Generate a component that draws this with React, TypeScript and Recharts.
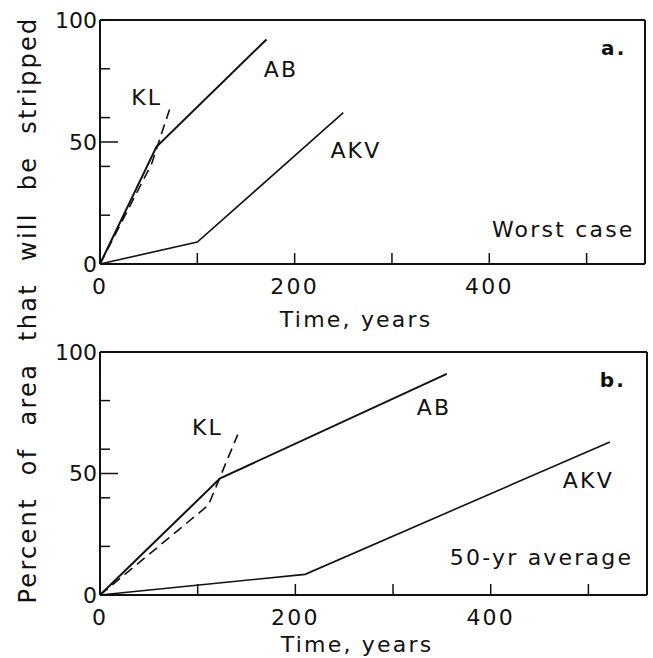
import { LineChart, Line, XAxis, YAxis, ReferenceDot, Label } from "recharts";

const FONT = "'DejaVu Sans', sans-serif";
const INK = "#111";

// x axis: time, years
const X_DOMAIN = [0, 560];
const X_TICKS = [0, 100, 200, 300, 400, 500];
const X_TOP_TICKS = [100, 200, 300, 400, 500];
const X_LABELS = [0, 200, 400];

// y axis: percent stripped
const Y_TICKS = [0, 20, 40, 50, 60, 80, 100];
const Y_MAJOR = [0, 50, 100];

// panel a (worst case)
const A_AB_T = [0, 58, 171];
const A_AB_V = [0, 48, 92];
const A_KL_T = [0, 53, 72];
const A_KL_V = [0, 41, 64];
const A_AKV_T = [0, 100, 250];
const A_AKV_V = [0, 9, 62];

// panel b (50-yr average)
const B_AB_T = [0, 123, 355];
const B_AB_V = [0, 48, 91];
const B_KL_T = [0, 111, 141];
const B_KL_V = [0, 37, 66];
const B_AKV_T = [0, 210, 522];
const B_AKV_V = [0, 8.5, 63];

const toPts = (t: number[], v: number[]) => t.map((x, i) => ({ t: x, v: v[i] }));

const textStyle = { fontFamily: FONT, fontSize: 22, fill: INK, letterSpacing: 2.2 };

function XTickBottom(props: any) {
  const { x, y, payload } = props;
  const v = payload?.value;
  return (
    <g>
      {v !== 0 && <line x1={x} x2={x} y1={y} y2={y - 11} stroke={INK} strokeWidth={1.5} />}
      {X_LABELS.includes(v) && (
        <text x={x} y={y + 30} textAnchor="middle" style={textStyle}>
          {v}
        </text>
      )}
    </g>
  );
}

function XTickTop(props: any) {
  const { x, y } = props;
  return <line x1={x} x2={x} y1={y} y2={y + 12} stroke={INK} strokeWidth={1.5} />;
}

function YTick(props: any) {
  const { x, y, payload } = props;
  const v = payload?.value;
  const major = Y_MAJOR.includes(v);
  return (
    <g>
      <line x1={x} x2={x + (major ? 18 : 10)} y1={y} y2={y} stroke={INK} strokeWidth={1.5} />
      {major && (
        <text x={x - 3} y={y} dy="0.36em" textAnchor="end" style={{ ...textStyle, letterSpacing: 0 }}>
          {v}
        </text>
      )}
    </g>
  );
}

interface Note { t: number; v: number; text: string; bold?: boolean }

const A_NOTES: Note[] = [
  { t: 48, v: 65, text: "KL" },
  { t: 186, v: 76.5, text: "AB" },
  { t: 263, v: 43.5, text: "AKV" },
  { t: 528, v: 85.7, text: "a.", bold: true },
  { t: 476, v: 11.1, text: "Worst case" },
];

const B_NOTES: Note[] = [
  { t: 110, v: 65.8, text: "KL" },
  { t: 342, v: 74.1, text: "AB" },
  { t: 500, v: 44, text: "AKV" },
  { t: 525, v: 85.6, text: "b.", bold: true },
  { t: 452, v: 12.3, text: "50-yr average" },
];

interface PanelProps {
  ab: { t: number; v: number }[];
  kl: { t: number; v: number }[];
  akv: { t: number; v: number }[];
  notes: Note[];
  height: number;
  top: number;
  bottomH: number;
  rightW: number;
  titleDy: number;
}

function Panel({ ab, kl, akv, notes, height, top, bottomH, rightW, titleDy }: PanelProps) {
  return (
    <LineChart width={653} height={height} margin={{ top, right: 0, bottom: 0, left: 0 }}>
      <XAxis
        dataKey="t"
        type="number"
        domain={X_DOMAIN}
        ticks={X_TICKS}
        interval={0}
        height={bottomH}
        tickSize={0}
        tickMargin={0}
        tickLine={false}
        axisLine={{ stroke: INK, strokeWidth: 2 }}
        tick={<XTickBottom />}
      >
        <Label
          content={(p: any) => {
            const vb = p.viewBox;
            return (
              <text x={vb.x + vb.width * 0.47} y={vb.y + titleDy} textAnchor="middle" style={textStyle}>
                Time, years
              </text>
            );
          }}
        />
      </XAxis>
      <XAxis
        xAxisId="top"
        orientation="top"
        type="number"
        domain={X_DOMAIN}
        ticks={X_TOP_TICKS}
        interval={0}
        height={1}
        tickSize={0}
        tickMargin={0}
        tickLine={false}
        axisLine={{ stroke: INK, strokeWidth: 2 }}
        tick={<XTickTop />}
      />
      <YAxis
        type="number"
        domain={[0, 100]}
        ticks={Y_TICKS}
        interval={0}
        width={100}
        tickSize={0}
        tickMargin={0}
        tickLine={false}
        axisLine={{ stroke: INK, strokeWidth: 2 }}
        tick={<YTick />}
      />
      <YAxis
        yAxisId="r"
        orientation="right"
        type="number"
        domain={[0, 100]}
        width={rightW}
        tick={false}
        tickLine={false}
        axisLine={{ stroke: INK, strokeWidth: 2 }}
      />
      <Line data={ab} dataKey="v" name="AB" stroke={INK} strokeWidth={2} dot={false} isAnimationActive={false} />
      <Line
        data={kl}
        dataKey="v"
        name="KL"
        stroke={INK}
        strokeWidth={1.6}
        strokeDasharray="10 6"
        dot={false}
        isAnimationActive={false}
      />
      <Line data={akv} dataKey="v" name="AKV" stroke={INK} strokeWidth={1.6} dot={false} isAnimationActive={false} />
      {notes.map((n) => (
        <ReferenceDot
          key={n.text}
          x={n.t}
          y={n.v}
          r={0}
          ifOverflow="visible"
          shape={(p: any) => (
            <text
              x={p.cx}
              y={p.cy}
              textAnchor="middle"
              style={{ ...textStyle, fontWeight: n.bold ? 700 : 400, fontSize: n.bold ? 20 : 22 }}
            >
              {n.text}
            </text>
          )}
        />
      ))}
    </LineChart>
  );
}

export default function App() {
  return (
    <div style={{ position: "absolute", left: 0, top: 0, width: 653, height: 658, background: "#fff" }}>
      <div style={{ position: "absolute", left: 0, top: 0 }}>
        <Panel
          ab={toPts(A_AB_T, A_AB_V)}
          kl={toPts(A_KL_T, A_KL_V)}
          akv={toPts(A_AKV_T, A_AKV_V)}
          notes={A_NOTES}
          height={340}
          top={19}
          bottomH={76}
          rightW={8}
          titleDy={63}
        />
      </div>
      <div style={{ position: "absolute", left: 0, top: 330 }}>
        <Panel
          ab={toPts(B_AB_T, B_AB_V)}
          kl={toPts(B_KL_T, B_KL_V)}
          akv={toPts(B_AKV_T, B_AKV_V)}
          notes={B_NOTES}
          height={328}
          top={21}
          bottomH={63}
          rightW={6}
          titleDy={57}
        />
      </div>
      <svg
        width={60}
        height={658}
        style={{ position: "absolute", left: 0, top: 0, pointerEvents: "none" }}
      >
        <text
          x={36}
          y={310}
          transform="rotate(-90 36 310)"
          textAnchor="middle"
          style={{ fontFamily: FONT, fontSize: 24, fill: INK, letterSpacing: 2.3, wordSpacing: 12 }}
        >
          Percent of area that will be stripped
        </text>
      </svg>
    </div>
  );
}
